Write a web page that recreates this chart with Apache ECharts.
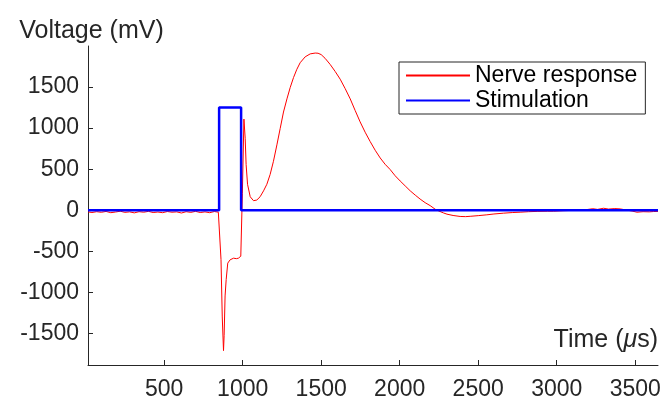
<!DOCTYPE html>
<html>
<head>
<meta charset="utf-8">
<script src="https://cdn.jsdelivr.net/npm/echarts@6/dist/echarts.min.js"></script>
<style>
html,body{margin:0;padding:0;background:#fff;}
#chart{width:664px;height:401px;}
</style>
</head>
<body>
<div id="chart"></div>
<script>
// Tick labels
const xTicks = [500, 1000, 1500, 2000, 2500, 3000, 3500];
const yTicks = [-1500, -1000, -500, 0, 500, 1000, 1500];

// Stimulation (blue)
const stimT = [15, 850, 850, 990, 990, 3645];
const stimV = [0, 0, 1250, 1250, 0, 0];

// Nerve response (red)
const nerveT = [15, 40, 70, 100, 130, 160, 190, 220, 250, 280, 310, 340, 370, 400, 430, 460, 490, 520, 550, 580, 610, 640, 670, 700, 730, 760, 790, 820, 845, 857,
  862, 870, 878, 882, 888, 895, 905, 920, 942, 960, 973, 984, 988, 998, 1008, 1016, 1022, 1031, 1048, 1069, 1090, 1111, 1133, 1154, 1175, 1196, 1218, 1239, 1260, 1282, 1303, 1324, 1345, 1366, 1398, 1430, 1462, 1480, 1500, 1525, 1557, 1589, 1621, 1653, 1685, 1716, 1748, 1780, 1812, 1844, 1876, 1907, 1939, 1971, 2003, 2035, 2067, 2099, 2130, 2162, 2194, 2226, 2250, 2280, 2301, 2340, 2385, 2420, 2449, 2500, 2555, 2600, 2660, 2720, 2767, 2820, 2880, 2940, 2980, 3040, 3100, 3150, 3192, 3230, 3260, 3298, 3330, 3370, 3404, 3440, 3480, 3511, 3550, 3590, 3616, 3645];
const nerveV = [-20, -28, -18, -25, -15, -30, -22, -12, -26, -20, -32, -18, -24, -14, -28, -22, -30, -16, -24, -20, -34, -18, -26, -14, -28, -20, -30, -16, -24, -22,
  -600, -1300, -1710, -1524, -1044, -844, -644, -604, -584, -590, -584, -576, -560, 200, 1110, 876, 556, 316, 164, 116, 124, 164, 236, 316, 436, 596, 796, 996, 1196, 1356, 1496, 1616, 1716, 1796, 1868, 1904, 1914, 1912, 1895, 1850, 1776, 1690, 1596, 1480, 1356, 1216, 1076, 950, 836, 730, 636, 560, 496, 420, 356, 296, 236, 184, 136, 92, 56, 12, -10, -34, -48, -64, -76, -78, -74, -66, -56, -46, -36, -28, -24, -18, -14, -12, -12, -6, -2, 4, 8, 18, 10, 24, 14, 20, 16, 4, -10, -24, -18, -20, -16, -14];

const seriesNames = ['Nerve response', 'Stimulation'];

const zip = (a, b) => a.map((v, i) => [v, b[i]]);
const FONT = 'Liberation Sans, Arial, Helvetica, sans-serif';
const TXT = '#262626';
const plain = v => String(v);

const chart = echarts.init(document.getElementById('chart'), null, {renderer: 'canvas'});
chart.setOption({
  animation: false,
  backgroundColor: '#fff',
  grid: {left: 88, right: 6, top: 46, bottom: 31, containLabel: false},
  legend: {
    left: 399, top: 62, orient: 'vertical',
    data: seriesNames,
    itemWidth: 64, itemHeight: 23, itemGap: 2,
    padding: [2, 8, 2, 6],
    borderColor: '#262626', borderWidth: 1, backgroundColor: '#fff',
    textStyle: {fontFamily: FONT, fontSize: 23, color: '#000', lineHeight: 23},
    itemStyle: {opacity: 0},
    selectedMode: false
  },
  xAxis: {
    type: 'value', min: 15, max: 3645,
    name: '{n|Time (}{m|μ}{n|s)}',
    nameLocation: 'end', nameGap: 0,
    nameTextStyle: {
      align: 'right', verticalAlign: 'bottom', padding: [0, 0, 12, 0],
      rich: {
        n: {fontFamily: FONT, fontSize: 25, color: TXT, lineHeight: 26},
        m: {fontFamily: FONT, fontSize: 25, color: TXT, lineHeight: 26, fontStyle: 'italic'}
      }
    },
    axisLine: {show: true, onZero: false, lineStyle: {color: TXT, width: 1}},
    axisTick: {show: true, inside: true, length: 5, customValues: xTicks, lineStyle: {color: TXT}},
    axisLabel: {customValues: xTicks, formatter: plain, margin: 13, fontFamily: FONT, fontSize: 23, color: TXT, lineHeight: 23},
    splitLine: {show: false}
  },
  yAxis: {
    type: 'value', min: -1885, max: 2000,
    name: 'Voltage (mV)',
    nameLocation: 'end', nameGap: 2,
    nameTextStyle: {fontFamily: FONT, fontSize: 25, color: TXT, lineHeight: 26, align: 'center', padding: [0, 0, 0, 7]},
    axisLine: {show: true, onZero: false, lineStyle: {color: TXT, width: 1}},
    axisTick: {show: true, inside: true, length: 5, customValues: yTicks, lineStyle: {color: TXT}},
    axisLabel: {customValues: yTicks, formatter: plain, margin: 9, fontFamily: FONT, fontSize: 23, color: TXT},
    splitLine: {show: false}
  },
  series: [
    {
      name: seriesNames[0], type: 'line', data: zip(nerveT, nerveV),
      symbol: 'none', showSymbol: false,
      lineStyle: {color: '#ff0000', width: 1},
      itemStyle: {color: 'rgba(255,0,0,0)'}
    },
    {
      name: seriesNames[1], type: 'line', data: zip(stimT, stimV),
      symbol: 'none', showSymbol: false,
      lineStyle: {color: '#0000ff', width: 2.5},
      itemStyle: {color: 'rgba(0,0,255,0)'}
    }
  ]
});
</script>
</body>
</html>
